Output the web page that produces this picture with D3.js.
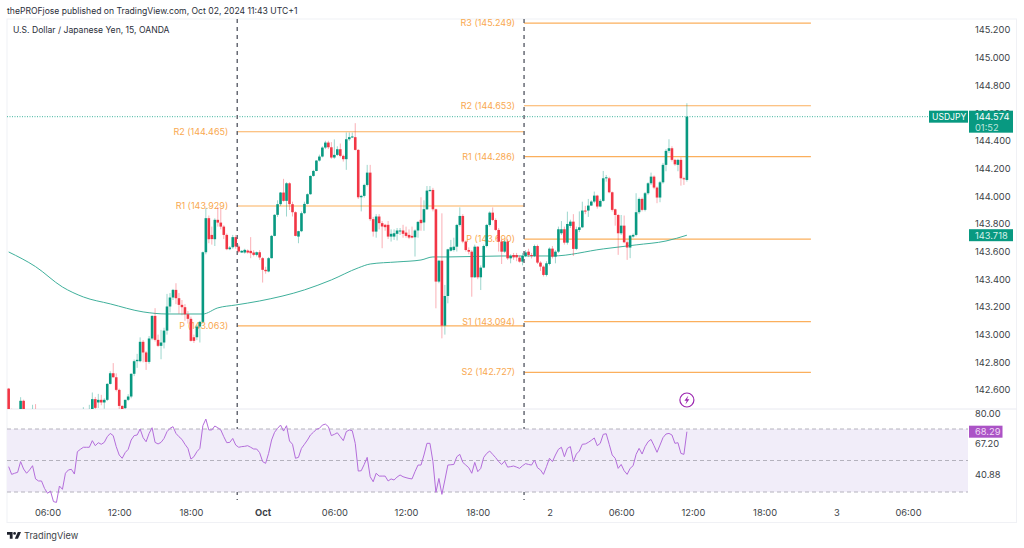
<!DOCTYPE html>
<html>
<head>
<meta charset="utf-8">
<script src="https://cdn.jsdelivr.net/npm/d3@7"></script>
<style>
  html, body { margin: 0; padding: 0; background: #fff; overflow: hidden; }
  text { font-family: Inter, "Noto Sans", sans-serif; }
</style>
</head>
<body>
<div id="chart"></div>
<script>
// USDJPY 15m bars, first bar is Sep 30 02:45 (price hidden below the pane for many of the early ones)
const firstBarHour = 2.75;
const barHours = 0.25;

const opens = [
  142.610,142.420,142.400,142.380,142.410,142.522,142.400,142.360,142.390,142.420,
  142.380,142.330,142.300,142.250,142.270,142.180,142.140,142.120,142.090,142.180,
  142.150,142.260,142.310,142.330,142.350,142.300,142.420,142.430,142.440,142.534,
  142.510,142.529,142.510,142.529,142.644,142.721,142.692,142.601,142.485,142.469,
  142.529,142.553,142.717,142.808,142.808,142.948,142.871,142.803,142.972,143.135,
  142.962,142.919,142.943,143.029,143.203,143.268,143.323,143.263,143.215,143.198,
  143.147,143.114,142.981,142.981,143.058,143.092,143.595,143.841,143.720,143.689,
  143.829,143.809,143.780,143.720,143.617,143.631,143.704,143.636,143.593,143.593,
  143.607,143.605,143.593,143.576,143.595,143.552,143.468,143.456,143.552,143.713,
  143.865,143.942,144.026,143.966,144.093,143.942,143.884,143.708,143.747,143.877,
  143.944,144.014,144.146,144.182,144.257,144.286,144.351,144.387,144.353,144.279,
  144.298,144.339,144.291,144.267,144.411,144.426,144.426,144.334,143.992,144.002,
  144.081,144.170,143.834,143.744,143.853,143.805,143.793,143.793,143.708,143.708,
  143.728,143.745,143.752,143.737,143.720,143.713,143.703,143.752,143.829,143.810,
  143.905,144.040,144.045,143.905,143.383,143.534,143.065,143.279,143.606,143.611,
  143.635,143.792,143.857,143.672,143.611,143.599,143.414,143.635,143.414,143.484,
  143.640,143.792,143.881,143.828,143.756,143.672,143.599,143.672,143.551,143.575,
  143.575,143.556,143.527,143.568,143.599,143.575,143.568,143.640,143.520,143.491,
  143.431,143.510,143.621,143.563,143.599,143.732,143.761,143.664,143.785,143.816,
  143.619,143.756,143.775,143.896,143.896,143.932,143.961,144.004,143.925,143.966,
  144.129,144.129,144.028,143.905,143.864,143.732,143.787,143.667,143.629,143.708,
  143.720,143.884,143.980,143.901,144.021,144.093,144.141,144.062,143.990,144.100,
  144.226,144.327,144.346,144.262,144.226,144.262,144.129,144.117
];
const highs = [
  142.615,142.465,142.440,142.430,142.548,142.530,142.440,142.430,142.493,142.498,
  142.410,142.360,142.330,142.300,142.290,142.220,142.180,142.160,142.200,142.210,
  142.280,142.330,142.360,142.380,142.370,142.476,142.450,142.493,142.582,142.550,
  142.572,142.565,142.540,142.650,142.735,142.794,142.720,142.610,142.490,142.530,
  142.570,142.720,142.820,142.861,142.980,142.960,142.880,142.990,143.140,143.191,
  143.000,143.034,143.050,143.294,143.300,143.330,143.371,143.300,143.250,143.220,
  143.170,143.130,143.000,143.070,143.100,143.600,143.913,143.860,143.780,143.840,
  143.920,143.910,143.790,143.730,143.640,143.720,143.720,143.650,143.610,143.620,
  143.615,143.704,143.610,143.600,143.610,143.560,143.490,143.560,143.720,143.870,
  143.970,144.030,144.125,144.100,144.100,143.960,143.890,143.750,143.890,143.960,
  144.020,144.150,144.190,144.260,144.300,144.360,144.400,144.400,144.390,144.410,
  144.360,144.380,144.300,144.460,144.460,144.459,144.527,144.340,144.010,144.090,
  144.226,144.226,143.850,143.870,143.870,143.820,143.800,143.820,143.760,143.760,
  143.770,143.770,143.793,143.780,143.760,143.780,143.760,143.820,143.992,143.970,
  144.073,144.073,144.060,143.910,143.540,143.876,143.359,143.620,143.684,143.700,
  143.800,143.919,143.870,143.680,143.630,143.610,143.650,143.640,143.500,143.650,
  143.800,143.890,143.919,143.840,143.770,143.690,143.680,143.690,143.580,143.590,
  143.590,143.570,143.590,143.610,143.620,143.590,143.650,143.650,143.530,143.500,
  143.530,143.630,143.640,143.610,143.780,143.820,143.780,143.888,143.830,143.870,
  143.780,143.890,143.960,143.930,143.980,143.970,144.033,144.010,143.980,144.182,
  144.153,144.140,144.033,143.910,143.870,143.864,143.860,143.680,143.720,143.730,
  144.021,143.990,143.990,144.030,144.100,144.170,144.150,144.070,144.110,144.240,
  144.340,144.411,144.360,144.270,144.270,144.280,144.140,144.671
];
const lows = [
  142.380,142.350,142.340,142.330,142.380,142.360,142.340,142.310,142.360,142.360,
  142.300,142.270,142.220,142.200,142.150,142.100,142.080,142.060,142.070,142.120,
  142.130,142.240,142.270,142.290,142.280,142.280,142.380,142.410,142.430,142.450,
  142.470,142.490,142.465,142.520,142.640,142.690,142.590,142.460,142.420,142.460,
  142.520,142.540,142.700,142.760,142.800,142.800,142.745,142.790,142.960,142.950,
  142.910,142.822,142.900,143.000,143.160,143.250,143.220,143.150,143.140,143.100,
  143.080,142.950,142.940,142.960,142.943,143.080,143.580,143.660,143.650,143.640,
  143.780,143.760,143.690,143.610,143.610,143.620,143.620,143.590,143.590,143.585,
  143.585,143.552,143.565,143.565,143.540,143.376,143.440,143.450,143.550,143.710,
  143.850,143.930,143.960,143.853,143.900,143.853,143.710,143.660,143.740,143.870,
  143.940,144.010,144.140,144.180,144.250,144.280,144.340,144.340,144.270,144.270,
  144.290,144.280,144.250,144.190,144.400,144.420,144.330,143.980,143.890,143.990,
  144.070,143.820,143.708,143.700,143.760,143.624,143.750,143.690,143.672,143.684,
  143.680,143.720,143.700,143.700,143.690,143.695,143.564,143.700,143.750,143.750,
  143.900,144.030,143.890,143.190,143.371,142.973,143.000,143.226,143.600,143.600,
  143.600,143.780,143.660,143.600,143.580,143.274,143.410,143.400,143.322,143.480,
  143.630,143.780,143.820,143.750,143.600,143.510,143.590,143.540,143.515,143.540,
  143.530,143.520,143.500,143.560,143.560,143.550,143.560,143.510,143.460,143.420,
  143.420,143.500,143.550,143.515,143.590,143.720,143.650,143.650,143.770,143.568,
  143.610,143.740,143.770,143.870,143.850,143.930,143.950,143.910,143.920,143.960,
  144.105,144.021,143.889,143.787,143.576,143.720,143.660,143.540,143.552,143.700,
  143.710,143.870,143.890,143.890,144.010,144.080,144.050,143.949,143.956,144.090,
  144.180,144.310,144.250,144.220,144.180,144.076,144.081,144.105
];
const closes = [
  142.420,142.400,142.380,142.410,142.522,142.400,142.360,142.390,142.420,142.380,
  142.330,142.300,142.250,142.270,142.180,142.140,142.120,142.090,142.180,142.150,
  142.260,142.310,142.330,142.350,142.300,142.420,142.430,142.440,142.534,142.471,
  142.529,142.510,142.529,142.644,142.721,142.692,142.601,142.485,142.433,142.529,
  142.553,142.717,142.808,142.818,142.948,142.871,142.803,142.972,143.135,142.962,
  142.919,142.943,143.029,143.203,143.268,143.323,143.263,143.215,143.198,143.147,
  143.114,142.955,142.955,143.058,143.092,143.595,143.841,143.689,143.690,143.829,
  143.809,143.780,143.720,143.617,143.629,143.704,143.636,143.600,143.605,143.612,
  143.593,143.588,143.576,143.595,143.557,143.468,143.458,143.552,143.713,143.865,
  143.942,144.026,143.966,144.093,143.942,143.884,143.713,143.747,143.877,143.944,
  144.014,144.146,144.182,144.257,144.286,144.351,144.387,144.353,144.279,144.298,
  144.339,144.291,144.267,144.411,144.426,144.431,144.334,143.992,144.002,144.081,
  144.170,143.834,143.744,143.853,143.805,143.781,143.776,143.708,143.728,143.732,
  143.752,143.752,143.728,143.713,143.701,143.701,143.752,143.814,143.805,143.906,
  144.040,144.045,143.905,143.383,143.534,143.065,143.279,143.616,143.631,143.635,
  143.792,143.857,143.672,143.611,143.599,143.414,143.635,143.414,143.484,143.640,
  143.792,143.881,143.828,143.756,143.672,143.599,143.672,143.551,143.568,143.558,
  143.558,143.527,143.568,143.594,143.575,143.568,143.640,143.520,143.491,143.431,
  143.515,143.621,143.563,143.599,143.761,143.761,143.664,143.799,143.816,143.619,
  143.761,143.775,143.896,143.890,143.932,143.961,144.004,143.925,143.966,144.129,
  144.136,144.028,143.901,143.864,143.732,143.787,143.667,143.629,143.715,143.720,
  143.884,143.980,143.901,144.021,144.093,144.141,144.062,143.990,144.100,144.226,
  144.327,144.346,144.262,144.230,144.262,144.129,144.124,144.574
];

// EMA line, read at a few bars only because it is so smooth
const emaBars = [0,9,18,25,34,45,53,65,70,76,84,99,108,117,121,130,138,142,147,165,182,199,210,220,227];
const emaValues = [143.597,143.491,143.344,143.272,143.222,143.164,143.149,143.149,143.193,143.214,143.243,143.323,143.395,143.482,143.510,143.525,143.539,143.561,143.561,143.568,143.568,143.619,143.648,143.676,143.718];

const rsiValues = [
  46.1,41.2,41.9,42.5,49.3,44.6,41.9,44.0,46.7,38.3,37.0,37.0,32.3,29.2,30.6,23.9,23.4,33.8,31.7,41.9,
  44.0,44.4,41.4,55.6,57.1,58.4,58.4,58.4,62.6,59.4,61.3,60.3,61.5,65.1,67.2,65.8,58.8,53.5,51.4,55.0,
  57.1,63.0,65.8,66.2,70.0,64.5,61.9,67.2,70.8,61.5,60.5,61.5,64.0,68.3,70.4,71.5,67.2,65.1,63.4,60.3,
  57.7,50.9,52.4,55.6,57.7,72.1,76.3,69.4,69.4,71.9,70.8,69.4,65.1,61.3,61.5,64.0,59.8,58.4,58.8,59.0,
  59.4,58.4,57.3,57.3,55.0,49.3,48.2,54.5,63.0,67.9,70.4,72.5,68.7,72.1,62.4,60.3,51.4,52.0,57.7,60.3,
  63.0,66.2,67.9,69.8,70.4,72.5,73.1,71.5,65.8,66.6,67.6,65.1,62.6,68.3,69.4,68.9,60.9,43.3,43.5,47.5,
  52.0,39.7,36.5,41.9,40.1,40.1,40.1,37.0,38.3,37.6,39.5,40.8,39.7,39.1,38.6,38.3,42.9,47.1,47.1,53.5,
  60.9,60.9,49.3,29.8,38.6,28.5,37.6,47.1,47.3,47.5,52.4,53.9,48.8,47.1,45.4,41.9,48.8,42.9,45.0,52.0,
  54.5,56.0,53.9,51.8,49.3,47.5,49.6,45.8,46.1,46.5,45.8,45.0,46.7,48.0,47.5,47.1,50.3,45.4,44.0,41.2,
  46.1,51.4,49.3,53.5,57.1,58.4,52.4,57.7,58.8,49.3,54.1,56.0,60.3,60.5,61.5,62.8,64.3,59.4,60.9,66.6,
  67.0,60.3,53.5,51.4,45.0,47.5,43.5,41.2,45.0,46.7,53.9,57.7,54.1,58.8,61.9,63.4,59.4,55.2,59.8,64.5,
  66.8,67.2,66.2,60.9,61.3,54.5,53.9,68.29
];

// pivot levels, hours counted from Sep 30 00:00
const sessionEdges = [21.875, 45.875, 69.875];
const pivotSession = [0, 0, 0, 1, 1, 1, 1, 1, 1];
const pivotNames = ["R2", "R1", "P", "R3", "R2", "R1", "P", "S1", "S2"];
const pivotValues = [144.465, 143.929, 143.063, 145.249, 144.653, 144.286, 143.690, 143.094, 142.727];

const priceTicks = [145.2, 145.0, 144.8, 144.6, 144.4, 144.2, 144.0, 143.8, 143.6, 143.4, 143.2, 143.0, 142.8, 142.6];
const timeTicks = [6, 12, 18, 24, 30, 36, 42, 48, 54, 60, 66, 72, 78];
const timeLabels = ["06:00", "12:00", "18:00", "Oct", "06:00", "12:00", "18:00", "2", "06:00", "12:00", "18:00", "3", "06:00"];
const rsiTicks = [80, 67.2, 40.88];
const rsiBands = [70, 50, 30];

const lastPrice = 144.574;
const emaLast = 143.718;
const rsiLast = 68.29;

const width = 1024, height = 548;
const frameLeft = 7, paneRight = 968, frameRight = 1016.5, frameTop = 19, paneBottom = 409, frameBottom = 522.5;
const green = "#089981", red = "#f23645", orange = "#fbaf5d", labelOrange = "#f9a84f", textColor = "#3c3f47";
const axisFont = 9.3;

const x = d3.scaleLinear().domain([6, 78]).range([47.5, 908]);
const y = d3.scaleLinear().domain([142.6, 145.2]).range([390, 30]);
const yRsi = d3.scaleLinear().domain([30, 70]).range([492, 429]);
const barX = i => x(firstBarHour + i * barHours);

const svg = d3.select("#chart").append("svg")
    .attr("width", width)
    .attr("height", height)
    .style("display", "block");

svg.append("text").attr("x", 7).attr("y", 14)
    .attr("font-size", 8.6).attr("fill", "#2a2e39")
    .text("thePROFjose published on TradingView.com, Oct 02, 2024 11:43 UTC+1");

// frame and pane separator
svg.append("rect")
    .attr("x", frameLeft).attr("y", frameTop)
    .attr("width", frameRight - frameLeft).attr("height", frameBottom - frameTop)
    .attr("fill", "none").attr("stroke", "#f0f1f5");
svg.append("line")
    .attr("x1", frameLeft).attr("x2", frameRight)
    .attr("y1", paneBottom).attr("y2", paneBottom)
    .attr("stroke", "#e8e9f0");

svg.append("defs").append("clipPath").attr("id", "price-clip")
    .append("rect")
    .attr("x", frameLeft).attr("y", frameTop)
    .attr("width", paneRight - frameLeft).attr("height", paneBottom - frameTop);

// pivots sit under the candles, the candles cover part of their labels
const pivotLayer = svg.append("g");
pivotNames.forEach(function (name, k) {
    const s = pivotSession[k];
    pivotLayer.append("line")
        .attr("x1", x(sessionEdges[s])).attr("x2", x(sessionEdges[s + 1]))
        .attr("y1", y(pivotValues[k])).attr("y2", y(pivotValues[k]))
        .attr("stroke", orange).attr("stroke-width", 1.2);
    pivotLayer.append("text")
        .attr("x", x(sessionEdges[s]) - 9)
        .attr("y", y(pivotValues[k]) + 3)
        .attr("text-anchor", "end")
        .attr("font-size", 9)
        .attr("fill", labelOrange)
        .text(name + " (" + pivotValues[k].toFixed(3) + ")");
});

const priceLayer = svg.append("g").attr("clip-path", "url(#price-clip)");

// last price dotted line, stops at the USDJPY badge
priceLayer.append("line")
    .attr("x1", frameLeft).attr("x2", 929)
    .attr("y1", y(lastPrice)).attr("y2", y(lastPrice))
    .attr("stroke", "#3fb59e")
    .attr("stroke-dasharray", "1 1.5");

// moving average
priceLayer.append("path")
    .datum(emaBars)
    .attr("fill", "none")
    .attr("stroke", "#3fb09b")
    .attr("stroke-width", 1)
    .attr("d", d3.line()
        .x(function (b) { return barX(b); })
        .y(function (b, k) { return y(emaValues[k]); })
        .curve(d3.curveMonotoneX));

// candles, wicks first and lighter than the bodies
const barIndex = d3.range(closes.length);
const barColor = i => closes[i] >= opens[i] ? green : red;

priceLayer.selectAll(".wick").data(barIndex).join("line")
    .attr("class", "wick")
    .attr("x1", barX).attr("x2", barX)
    .attr("y1", i => y(highs[i])).attr("y2", i => y(lows[i]))
    .attr("stroke", barColor)
    .attr("stroke-opacity", 0.4)
    .attr("stroke-width", 1);

priceLayer.selectAll(".body").data(barIndex).join("rect")
    .attr("class", "body")
    .attr("x", i => barX(i) - 1.3)
    .attr("width", 2.6)
    .attr("y", i => y(Math.max(opens[i], closes[i])))
    .attr("height", i => Math.max(1, Math.abs(y(opens[i]) - y(closes[i]))))
    .attr("fill", barColor);

// session breaks
[sessionEdges[0], sessionEdges[1]].forEach(function (h) {
    svg.append("line")
        .attr("x1", x(h)).attr("x2", x(h))
        .attr("y1", frameTop).attr("y2", 500)
        .attr("stroke", "#5d606b").attr("stroke-width", 1.4)
        .attr("stroke-dasharray", "4 4");
});

// RSI pane
svg.append("rect")
    .attr("x", frameLeft).attr("width", paneRight - frameLeft)
    .attr("y", yRsi(70)).attr("height", yRsi(30) - yRsi(70))
    .attr("fill", "#f1edf9");
rsiBands.forEach(function (b) {
    svg.append("line")
        .attr("x1", frameLeft).attr("x2", paneRight)
        .attr("y1", yRsi(b)).attr("y2", yRsi(b))
        .attr("stroke", "#b4b2bd")
        .attr("stroke-dasharray", "4 3");
});
svg.append("path")
    .datum(rsiValues)
    .attr("fill", "none")
    .attr("stroke", "#b46ddb")
    .attr("stroke-width", 1)
    .attr("d", d3.line()
        .x(function (v, i) { return barX(i); })
        .y(function (v) { return yRsi(v); }));

// axes
const priceAxis = d3.axisRight(y)
    .tickValues(priceTicks)
    .tickSize(0)
    .tickPadding(0)
    .tickFormat(d3.format(".3f"));
const priceAxisG = svg.append("g").attr("transform", "translate(975,0)").call(priceAxis);

const rsiAxis = d3.axisRight(yRsi)
    .tickValues(rsiTicks)
    .tickSize(0)
    .tickPadding(0)
    .tickFormat(d3.format(".2f"));
const rsiAxisG = svg.append("g").attr("transform", "translate(975,0)").call(rsiAxis);
// 67.20 gets pushed down under the RSI badge
rsiAxisG.selectAll(".tick").filter(d => d === 67.2).select("text").attr("dy", "13.4px");

const timeAxis = d3.axisBottom(x)
    .tickValues(timeTicks)
    .tickSize(0)
    .tickPadding(0)
    .tickFormat(function (d, i) { return timeLabels[i]; });
const timeAxisG = svg.append("g").attr("transform", "translate(0,509)").call(timeAxis);
timeAxisG.selectAll(".tick").filter(d => d === 24).select("text").attr("font-weight", 700);

[priceAxisG, rsiAxisG, timeAxisG].forEach(function (g) {
    g.select(".domain").remove();
    g.attr("font-family", null).attr("font-size", null);
    g.selectAll("text").attr("font-size", axisFont).attr("fill", textColor);
});

// badges on the right scale
function badge(bx, by, w, h, fill) {
    return svg.append("rect").attr("x", bx).attr("y", by).attr("width", w).attr("height", h).attr("fill", fill);
}
function badgeText(tx, ty, str, fill) {
    return svg.append("text").attr("x", tx).attr("y", ty).attr("font-size", axisFont).attr("fill", fill).text(str);
}
badge(929, y(lastPrice) - 6, 39, 12, green);
badgeText(932, y(lastPrice) + 3.5, "USDJPY", "#fff").attr("font-size", 8.6);
badge(969, y(lastPrice) - 6, 44, 22, green);
badgeText(975, y(lastPrice) + 3.5, lastPrice.toFixed(3), "#fff");
badgeText(975, y(lastPrice) + 14, "01:52", "#bfe6df");
badge(969, y(emaLast) - 6, 44, 12, green);
badgeText(975, y(emaLast) + 3.5, emaLast.toFixed(3), "#d6f0ea");
badge(969, yRsi(rsiLast) - 6, 33.5, 12, "#ab53c6");
badgeText(975, yRsi(rsiLast) + 3.5, rsiLast.toFixed(2), "#f0dcf5");

// lightning marker
const bolt = svg.append("g").attr("transform", "translate(" + barX(227) + ",400)");
bolt.append("circle").attr("r", 7).attr("fill", "#fff").attr("stroke", "#9c27b0").attr("stroke-width", 1.2);
bolt.append("path").attr("d", "M1.5 -4.5 L-2.5 0.8 L-0.2 0.8 L-1.5 4.5 L2.5 -0.8 L0.2 -0.8 Z").attr("fill", "#9c27b0");

// title sits on top of everything in the pane
svg.append("text").attr("x", 13).attr("y", 33)
    .attr("font-size", 8.6).attr("fill", "#2a2e39")
    .text("U.S. Dollar / Japanese Yen, 15, OANDA");

// footer logo
const logo = svg.append("g").attr("transform", "translate(7,529.6) scale(0.4)").attr("fill", "#1e222d");
logo.append("path").attr("d", "M14 6H0v7h7v10h7z");
logo.append("circle").attr("cx", 19).attr("cy", 9.5).attr("r", 3.5);
logo.append("path").attr("d", "M27 6h8l-7.5 17h-8z");
svg.append("text").attr("x", 24).attr("y", 539)
    .attr("font-size", 9.2).attr("fill", "#3c3f47")
    .text("TradingView");
</script>
</body>
</html>
